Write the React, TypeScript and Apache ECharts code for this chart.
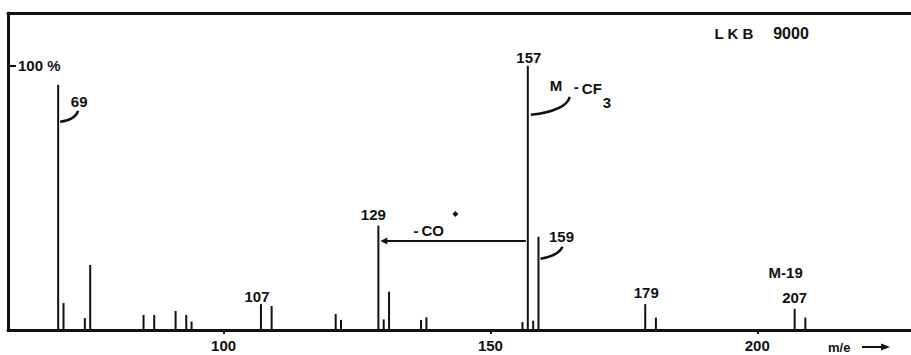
import React, { useEffect, useRef } from "react";
import * as echarts from "echarts";

// m/z values and relative intensities (%)
const masses = [69, 70, 74, 75, 85, 87, 91, 93, 94, 107, 109, 121, 122, 129, 130, 131, 137, 138, 156, 157, 158, 159, 179, 181, 207, 209];
const intensities = [92.8, 10.2, 4.5, 24.6, 5.7, 5.7, 7.2, 5.7, 3.2, 9.8, 9.1, 6.1, 3.8, 39.5, 4, 14.5, 3.8, 4.8, 3, 100, 3.5, 35.3, 9.8, 4.7, 8, 4.7];
const xTicks = [100, 150, 200];
const yTicks = [100];
const labelledMasses = [69, 157, 129, 159, 107, 179, 207];
const coLossLevel = 33.7; // intensity level of the "-CO" arrow

const INK = "#111";
const FONT = '"Liberation Sans", Arial, sans-serif';
const FS = 15;

export default function App() {
  const ref = useRef<HTMLDivElement>(null);
  useEffect(() => {
    if (!ref.current) return;
    const chart = echarts.init(ref.current, undefined, { renderer: "svg" });
    const data = masses.map((m, i) => [m, intensities[i]]);
    chart.setOption({
      animation: false,
      backgroundColor: "#fff",
      grid: { left: 8, right: 0, top: 13, bottom: 25 },
      xAxis: [
        {
          type: "value",
          min: 59.6,
          max: 228.8,
          axisLine: { show: true, lineStyle: { color: INK, width: 3 } },
          axisTick: { show: true, customValues: xTicks, length: 4, lineStyle: { color: INK, width: 2 } },
          axisLabel: { customValues: xTicks, margin: 8, color: INK, fontFamily: FONT, fontWeight: "bold", fontSize: FS },
          splitLine: { show: false },
        },
        {
          type: "value",
          position: "top",
          min: 59.6,
          max: 228.8,
          axisLine: { show: true, lineStyle: { color: INK, width: 3 } },
          axisTick: { show: false },
          axisLabel: { show: false },
          splitLine: { show: false },
        },
      ],
      yAxis: {
        type: "value",
        min: 0,
        max: 120,
        axisLine: { show: true, lineStyle: { color: INK, width: 3 } },
        axisTick: { show: true, inside: true, customValues: yTicks, length: 8, lineStyle: { color: INK, width: 2 } },
        axisLabel: {
          inside: true,
          customValues: yTicks,
          margin: 10,
          formatter: (v: number) => v + " %",
          color: INK,
          fontFamily: FONT,
          fontWeight: "bold",
          fontSize: FS,
        },
        splitLine: { show: false },
      },
      series: [
        {
          type: "custom",
          xAxisIndex: 0,
          data,
          renderItem: (params: any, api: any) => {
            const b = api.coord([api.value(0), 0]);
            const t = api.coord([api.value(0), api.value(1)]);
            return {
              type: "line",
              shape: { x1: b[0], y1: b[1], x2: t[0], y2: t[1] },
              style: { stroke: INK, lineWidth: 2 },
            };
          },
        },
      ],
    });

    const px = (m: number, v: number) => chart.convertToPixel({ gridIndex: 0 }, [m, v]) as number[];
    const top = (m: number) => px(m, intensities[masses.indexOf(m)]);
    const txt = (text: string, x: number, y: number, size = FS, align = "center") => ({
      type: "text",
      x,
      y,
      style: {
        text,
        fill: INK,
        font: `bold ${size}px ${FONT}`,
        align,
        verticalAlign: "middle",
        textAlign: align,
        textVerticalAlign: "middle",
      },
    });
    const curve = (x1: number, y1: number, cx: number, cy: number, x2: number, y2: number) => ({
      type: "bezierCurve",
      shape: { x1, y1, x2, y2, cpx1: cx, cpy1: cy },
      style: { stroke: INK, lineWidth: 2.5, fill: null },
    });

    const offsets: Record<number, number[]> = {
      69: [21, 17],
      157: [1, -8],
      129: [-5, -11],
      159: [23, 0],
      107: [-4, -8],
      179: [1, -12],
      207: [0, -11],
    };
    const els: any[] = [];
    labelledMasses.forEach((m) => {
      const p = top(m);
      const o = offsets[m];
      els.push(txt(String(m), p[0] + o[0], p[1] + o[1]));
    });

    const p69 = top(69);
    els.push(curve(p69[0] + 20, p69[1] + 26, p69[0] + 17, p69[1] + 35, p69[0] + 2, p69[1] + 37));

    const p157 = top(157);
    els.push(txt("M", p157[0] + 22, p157[1] + 20, FS, "left"));
    els.push(txt("-", p157[0] + 46, p157[1] + 21, FS, "left"));
    els.push(txt("CF", p157[0] + 54, p157[1] + 23, FS, "left"));
    els.push(txt("3", p157[0] + 79, p157[1] + 37, FS, "center"));
    els.push(curve(p157[0] + 42, p157[1] + 31, p157[0] + 38, p157[1] + 45, p157[0] + 3, p157[1] + 49));

    const p159 = top(159);
    els.push(curve(p159[0] + 24, p159[1] + 10, p159[0] + 20, p159[1] + 19, p159[0] + 2, p159[1] + 22));

    const a1 = px(157, coLossLevel);
    const a2 = px(129, coLossLevel);
    els.push({
      type: "line",
      shape: { x1: a1[0] - 2, y1: a1[1], x2: a2[0] + 6, y2: a2[1] },
      style: { stroke: INK, lineWidth: 2 },
    });
    els.push({
      type: "polygon",
      shape: { points: [[a2[0] + 2, a2[1]], [a2[0] + 9, a2[1] - 3.5], [a2[0] + 9, a2[1] + 3.5]] },
      style: { fill: INK },
    });
    els.push(txt("-", a2[0] + 35, a2[1] - 10, FS, "left"));
    els.push(txt("CO", a2[0] + 43, a2[1] - 10, FS, "left"));
    els.push({
      type: "polygon",
      shape: { points: [[a2[0] + 77, a2[1] - 30], [a2[0] + 80, a2[1] - 27], [a2[0] + 77, a2[1] - 24], [a2[0] + 74, a2[1] - 27]] },
      style: { fill: INK },
    });

    const p207 = top(207);
    els.push(txt("M-19", p207[0] - 9, p207[1] - 36, FS, "center"));

    els.push(txt("L K B", 734, 33, 15, "center"));
    els.push(txt("9000", 791, 33, 16, "center"));

    const axisY = px(100, 0)[1];
    els.push(txt("m/e", 828, axisY + 17, 13, "left"));
    els.push({
      type: "line",
      shape: { x1: 862, y1: axisY + 17, x2: 882, y2: axisY + 17 },
      style: { stroke: INK, lineWidth: 2 },
    });
    els.push({
      type: "polygon",
      shape: { points: [[890, axisY + 17], [881, axisY + 13.5], [881, axisY + 20.5]] },
      style: { fill: INK },
    });

    chart.setOption({ graphic: { elements: els } });
    return () => chart.dispose();
  }, []);
  return <div ref={ref} style={{ position: "fixed", left: 0, top: 0, width: 911, height: 355 }} />;
}
